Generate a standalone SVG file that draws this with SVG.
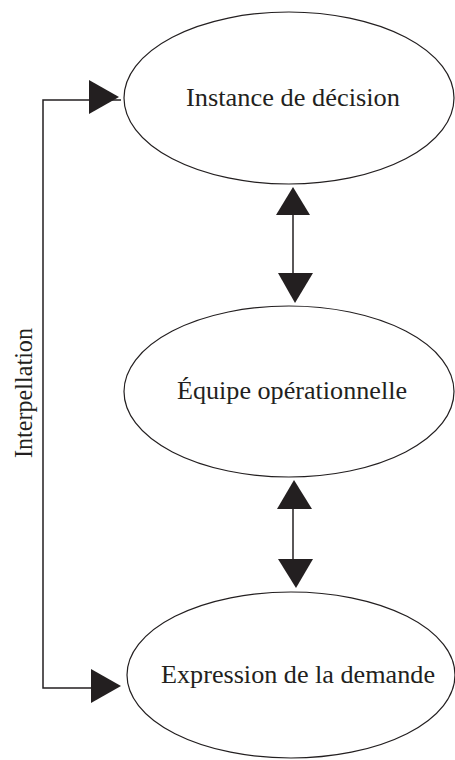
<svg xmlns="http://www.w3.org/2000/svg" width="455" height="760" viewBox="0 0 455 760">
<style>
.node ellipse{fill:#ffffff;stroke:#231f20;stroke-width:1.2}
text{font-family:'Liberation Serif','DejaVu Serif',serif;font-size:26px;fill:#231f20}
.conn line,.conn path{stroke:#231f20;stroke-width:1.5;fill:none}
.conn polygon{fill:#231f20;stroke:none}
</style>
<rect width="455" height="760" fill="#ffffff"/>
<g id="connectors" class="conn">
<path d="M121,100 H43 V688 H93"/>
<polygon points="89,80 119,97 89,114"/>
<polygon points="91,669 121,686 91,703"/>
<line x1="293" y1="212" x2="293" y2="276"/>
<polygon points="293,187 310,215 276,215"/>
<polygon points="278,273 313,273 295,303"/>
<line x1="293" y1="506" x2="293" y2="562"/>
<polygon points="294,480 312,509 277,509"/>
<polygon points="278,559 313,559 296,588"/>
</g>
<g id="node-instance" class="node">
<ellipse cx="289" cy="98" rx="165" ry="86"/>
<text font-family="Liberation Serif, serif" x="293" y="106" text-anchor="middle" textLength="214" lengthAdjust="spacingAndGlyphs">Instance de décision</text>
</g>
<g id="node-equipe" class="node">
<ellipse cx="289" cy="391.5" rx="165" ry="85.5"/>
<text font-family="Liberation Serif, serif" x="292" y="399" text-anchor="middle" textLength="230" lengthAdjust="spacingAndGlyphs">Équipe opérationnelle</text>
</g>
<g id="node-expression" class="node">
<ellipse cx="291" cy="675" rx="164" ry="83"/>
<text font-family="Liberation Serif, serif" x="298" y="683" text-anchor="middle" textLength="274" lengthAdjust="spacingAndGlyphs">Expression de la demande</text>
</g>
<g id="label-interpellation">
<text font-family="Liberation Serif, serif" transform="translate(32,393) rotate(-90)" text-anchor="middle" textLength="130" lengthAdjust="spacingAndGlyphs">Interpellation</text>
</g>
</svg>
